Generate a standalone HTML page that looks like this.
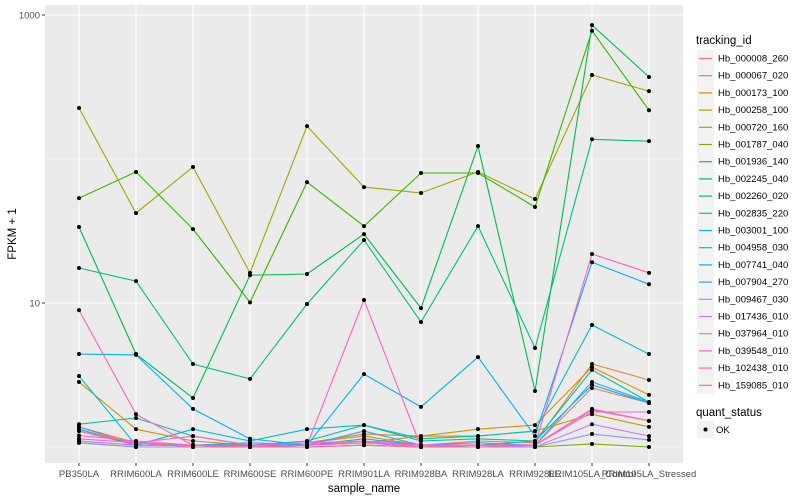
<!DOCTYPE html>
<html><head><meta charset="utf-8"><style>
body{margin:0;background:#fff;font-family:"Liberation Sans",sans-serif}
svg{display:block}
</style></head><body>
<svg id="chart" width="800" height="500" xmlns="http://www.w3.org/2000/svg">
<rect x="0" y="0" width="800" height="500" fill="#fff"/>
<rect x="45" y="5" width="638" height="458" fill="#ebebeb"/>
<g id="grid"></g>
<g id="series"></g>
<g id="axes"></g>
<g id="legend"></g>
</svg>
<script>
const categories = ["PB350LA","RRIM600LA","RRIM600LE","RRIM600SE","RRIM600PE","RRIM901LA","RRIM928BA","RRIM928LA","RRIM928LE","RRIM105LA_Control","RRIM105LA_Stressed"];
const seriesNames = ["Hb_000008_260","Hb_000067_020","Hb_000173_100","Hb_000258_100","Hb_000720_160","Hb_001787_040","Hb_001936_140","Hb_002245_040","Hb_002260_020","Hb_002835_220","Hb_003001_100","Hb_004958_030","Hb_007741_040","Hb_007904_270","Hb_009467_030","Hb_017436_010","Hb_037964_010","Hb_039548_010","Hb_102438_010","Hb_159085_010"];
const s000008 = [1.29,1.03,1.03,1.0,1.03,1.1,1.0,1.03,1.03,2.57,2.02];
const s000067 = [1.38,1.07,1.03,1.03,1.07,1.19,1.03,1.1,1.07,3.77,2.92];
const s000173 = [2.83,1.33,1.1,1.03,1.07,1.23,1.19,1.33,1.42,3.59,2.30];
const s000258 = [1.1,1.03,1.03,1.0,1.03,1.07,1.19,1.19,1.29,1.69,1.38];
const s000720 = [226,42.1,88.0,16.2,169,63.8,58.1,81.3,52.7,383,296];
const s001787 = [1.07,1.0,1.0,1.0,1.0,1.03,1.0,1.0,1.0,1.05,1.0];
const s001936 = [53.5,81.3,32.6,10.1,69.1,34.2,80.0,80.0,46.4,778,218];
const s002245 = [33.7,4.42,2.19,15.6,15.9,30.1,9.22,123,2.45,851,371];
const s002260 = [17.5,14.2,3.77,2.97,9.84,27.4,7.38,34.2,4.87,137,133];
const s002835 = [1.44,1.59,1.19,1.03,1.1,1.42,1.1,1.14,1.1,3.43,2.05];
const s003001 = [3.11,1.03,1.33,1.1,1.33,1.42,1.14,1.19,1.29,7.03,4.42];
const s004958 = [1.33,1.03,1.03,1.03,1.03,1.14,1.03,1.03,1.1,2.70,2.02];
const s007741 = [4.42,4.36,1.84,1.14,1.03,3.21,1.90,4.21,1.19,19.2,13.5];
const s007904 = [1.38,1.03,1.03,1.07,1.03,1.29,1.03,1.07,1.03,2.83,2.05];
const s009467 = [1.07,1.0,1.0,1.0,1.0,1.03,1.0,1.0,1.0,1.23,1.12];
const s017436 = [1.1,1.03,1.03,1.0,1.03,1.07,1.0,1.03,1.0,1.44,1.19];
const s037964 = [1.14,1.07,1.19,1.03,1.07,1.1,1.03,1.03,1.03,1.75,1.75];
const s039548 = [1.2,1.1,1.03,1.0,1.03,1.07,1.03,1.03,1.03,1.81,1.52];
const s102438 = [8.93,1.69,1.03,1.0,1.03,10.5,1.0,1.03,1.03,21.9,16.2];
const s159085 = [1.29,1.07,1.0,1.0,1.0,1.03,1.0,1.0,1.03,1.84,1.52];
const seriesValues = [s000008,s000067,s000173,s000258,s000720,s001787,s001936,s002245,s002260,s002835,s003001,s004958,s007741,s007904,s009467,s017436,s037964,s039548,s102438,s159085];
const colors = ["#F8766D","#EA8331","#D89000","#C09B00","#A3A500","#7CAE00","#39B600","#00BB4E","#00BF7D","#00C1A3","#00BFC4","#00BAE0","#00B0F6","#35A2FF","#9590FF","#C77CFF","#E76BF3","#FA62DB","#FF62BC","#FF6C91"];
const majorTicks = [10,1000];
const minorTicks = [1,100];

const NS="http://www.w3.org/2000/svg";
function el(tag,attrs,parent){const e=document.createElementNS(NS,tag);for(const k in attrs)e.setAttribute(k,attrs[k]);parent.appendChild(e);return e;}
const xScale = i => 79 + i*57;
const yScale = v => 447 - 144*Math.log10(v);

const grid=document.getElementById('grid');
minorTicks.forEach(t=>{const l=el('line',{x1:45,x2:683,y1:yScale(t),y2:yScale(t),stroke:'#fff','stroke-width':0.6},grid);

});
majorTicks.forEach(t=>{const l=el('line',{x1:45,x2:683,y1:yScale(t),y2:yScale(t),stroke:'#fff','stroke-width':1.1},grid);

});
categories.forEach((c,i)=>{const l=el('line',{x1:xScale(i),x2:xScale(i),y1:5,y2:463,stroke:'#fff','stroke-width':1.1},grid);

});

const sg=document.getElementById('series');
seriesValues.forEach((vals,si)=>{
  const pts=vals.map((v,i)=>xScale(i).toFixed(1)+','+yScale(v).toFixed(1)).join(' ');
  const p=el('polyline',{points:pts,fill:'none',stroke:colors[si],'stroke-width':1.1},sg);
  
  
});
seriesValues.forEach((vals,si)=>{
  vals.forEach((v,i)=>{
    const c=el('circle',{cx:xScale(i),cy:yScale(v),r:2,fill:'#000'},sg);
    
    
  });
});

const ax=document.getElementById('axes');
majorTicks.forEach(t=>{
  const tk=el('line',{x1:42,x2:45,y1:yScale(t),y2:yScale(t),stroke:'#333','stroke-width':1},ax);
  
  
  const tx=el('text',{x:40,y:yScale(t)+3.5,'text-anchor':'end','font-size':'9.5',fill:'#4d4d4d'},ax);
  tx.textContent=String(t);
  
  
});
categories.forEach((c,i)=>{
  const tk=el('line',{x1:xScale(i),x2:xScale(i),y1:463,y2:466,stroke:'#333','stroke-width':1},ax);
  
  
  const tx=el('text',{x:xScale(i),y:477,'text-anchor':'middle','font-size':'9.5',fill:'#4d4d4d'},ax);
  tx.textContent=c;
  
  
});
const xt=el('text',{x:364,y:492,'text-anchor':'middle','font-size':'11.5',fill:'#000'},ax);
xt.textContent='sample_name';


const yt=el('text',{x:0,y:0,transform:'translate(16,234) rotate(-90)','text-anchor':'middle','font-size':'11.5',fill:'#000'},ax);
yt.textContent='FPKM + 1';



const lg=document.getElementById('legend');
const lt=el('text',{x:696,y:44,'font-size':'11.5',fill:'#000'},lg);
lt.textContent='tracking_id';


seriesNames.forEach((n,i)=>{
  const y=58+i*17.2;
  const g=el('g',{},lg);
  
  
  el('rect',{x:697,y:y-8,width:17,height:17,fill:'#f2f2f2'},g);
  el('line',{x1:699,x2:712,y1:y+0.5,y2:y+0.5,stroke:colors[i],'stroke-width':1.2},g);
  const t=el('text',{x:718,y:y+3.5,'font-size':'9.5',fill:'#000'},g);
  t.textContent=n;
});
const qt=el('text',{x:696,y:416,'font-size':'11.5',fill:'#000'},lg);
qt.textContent='quant_status';


const qg=el('g',{},lg);


el('rect',{x:697,y:421,width:17,height:17,fill:'#f2f2f2'},qg);
el('circle',{cx:705.5,cy:429.5,r:2,fill:'#000'},qg);
const ok=el('text',{x:716,y:433,'font-size':'9.5',fill:'#000'},qg);
ok.textContent='OK';
</script>
</body></html>
